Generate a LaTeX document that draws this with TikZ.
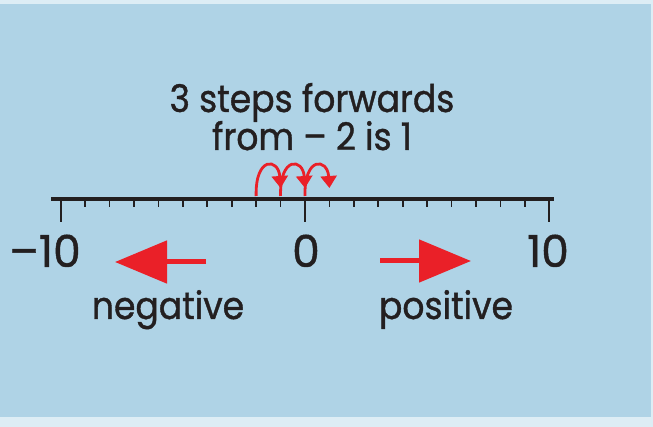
\documentclass[tikz,border=0pt]{standalone}
\usepackage{fontspec}
\setmainfont{Poppins}
\newfontfamily\handfont{Poppins}[FakeBold=1,FakeStretch=0.91]
\newfontfamily\digitfont{Poppins}[FakeBold=1]
\usetikzlibrary{arrows.meta}
\definecolor{seablue}{RGB}{175,211,230}
\definecolor{paleblue}{RGB}{221,237,245}
\definecolor{hopred}{RGB}{234,32,40}
\definecolor{inkblack}{RGB}{35,31,32}

\begin{document}
\begin{tikzpicture}[x=1pt,y=-1pt,
    numlbl/.style={font=\digitfont\fontsize{44}{44}\selectfont,text=inkblack,anchor=base,inner sep=0pt},
    wordlbl/.style={font=\handfont\fontsize{38}{38}\selectfont,text=inkblack,anchor=base,inner sep=0pt},
    hop/.style={hopred,line width=2.8pt,-{Triangle[length=12pt,width=16pt]}},
    bigarrow/.style={hopred,line width=5pt,-{Triangle[length=52pt,width=42pt]}}]
    % background panel
    \fill[paleblue] (0,0) rectangle (653,427);
    \fill[seablue] (0,4) rectangle (651,417);
    \useasboundingbox (0,0) rectangle (653,427);
    % heading
    \node[wordlbl] (head1) at (312,112) {3 steps forwards};
    \node[wordlbl] (head2) at (312,150) {from – 2 is 1};
    % number line with ticks
    \draw[inkblack,line width=4.5pt] (51,199) -- (554,199);
    \foreach \n in {-10,...,10} {
        \coordinate (p\n) at ({305+24.43*\n},196);
        \draw[inkblack,line width=1.6pt] ({305+24.43*\n},199) -- ++(0,8);
    }
    \foreach \n in {-10,0,10}
        \draw[inkblack,line width=2pt] ({305+24.43*\n},199) -- ++(0,23);
    % the three hops
    \foreach \a/\b in {-2/-1,-1/0,0/1}
        \draw[hop] (p\a) .. controls +(-1,-40) and +(-2,-30) .. ([yshift=8pt]p\b);
    % labels
    \node[numlbl] (lblmin) at (45,267) {–10};
    \node[numlbl] (lblzero) at (306,267) {0};
    \node[numlbl] (lblmax) at (548,267) {10};
    \node[wordlbl] (lblneg) at (168,319) {negative};
    \node[wordlbl] (lblpos) at (446,319) {positive};
    % direction arrows
    \coordinate (negtail) at (206,262);
    \coordinate (neghead) at (115,262);
    \coordinate (postail) at (380,261);
    \coordinate (poshead) at (471,261);
    \draw[bigarrow] (negtail) -- (neghead);
    \draw[bigarrow] (postail) -- (poshead);
\end{tikzpicture}
\end{document}
